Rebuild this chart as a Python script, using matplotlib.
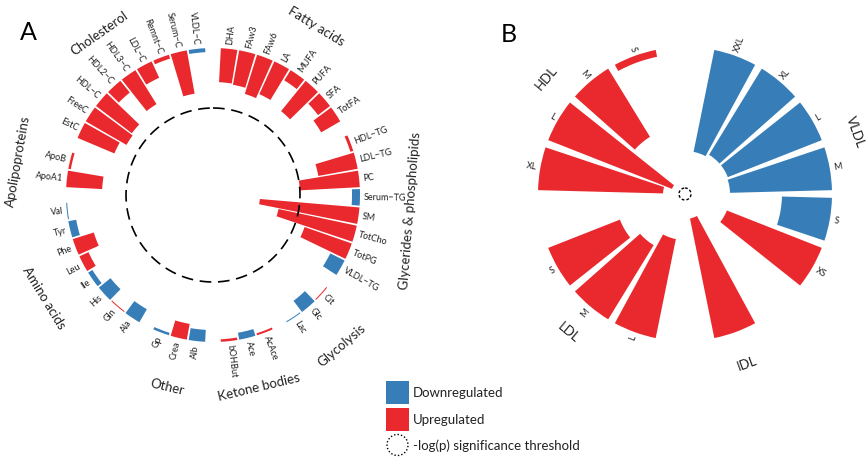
import numpy as np
import matplotlib
matplotlib.use("Agg")
import matplotlib.pyplot as plt
from matplotlib.patches import Rectangle, Circle

plt.rcParams['font.family'] = ['Lato', 'DejaVu Sans']

RED = "#E9292E"
BLUE = "#377EB8"

# ---------------- panel A data ----------------
groups_a = ["Fatty acids", "Glycerides & phospholipids", "Glycolysis", "Ketone bodies",
            "Other", "Amino acids", "Apolipoproteins", "Cholesterol"]
names_a = [
    ["DHA", "FAw3", "FAw6", "LA", "MUFA", "PUFA", "SFA", "TotFA"],
    ["HDL\u2212TG", "LDL\u2212TG", "PC", "Serum\u2212TG", "SM", "TotCho", "TotPG", "VLDL\u2212TG"],
    ["Cit", "Glc", "Lac"],
    ["AcAce", "Ace", "bOHBut"],
    ["Alb", "Crea", "Gp"],
    ["Ala", "Gln", "His", "Ile", "Leu", "Phe", "Tyr", "Val"],
    ["ApoA1", "ApoB"],
    ["EstC", "FreeC", "HDL\u2212C", "HDL2\u2212C", "HDL3\u2212C", "LDL\u2212C", "Remnt\u2212C", "Serum\u2212C", "VLDL\u2212C"],
]
# bar length (score)
values_a = [
    [34, 35, 41, 36, 12, 39, 15, 22],
    [3, 40, 60, 8, 100, 80, 50, 16],
    [1, 14, 1],
    [2, 7, 2.5],
    [12, 16, 2.5],
    [15, 1, 15, 5, 10, 22, 8, 1],
    [36, 2.5],
    [40, 47, 45, 15, 40, 18, 4, 44, 4],
]
# 1 = upregulated, 0 = downregulated
up_a = [
    [1, 1, 1, 1, 1, 1, 1, 1],
    [1, 1, 1, 0, 1, 1, 1, 0],
    [1, 0, 0],
    [1, 0, 1],
    [0, 1, 0],
    [0, 1, 0, 0, 1, 1, 0, 0],
    [1, 1],
    [1, 1, 1, 1, 1, 1, 1, 1, 0],
]
threshold_a = 60

# ---------------- panel B data ----------------
groups_b = ["VLDL", "IDL", "LDL", "HDL"]
names_b = [["XXL", "XL", "L", "M", "S", "XS"], [""], ["L", "M", "S"], ["XL", "L", "M", "S"]]
values_b = [[104, 101, 101, 102, 50, 102], [122], [101, 87, 77], [125, 133, 80, 7]]
up_b = [[0, 0, 0, 0, 0, 1], [1], [1, 1, 1], [1, 1, 1, 1]]
threshold_b = 141

R_OUT = 147
W, H = 867, 457
fig = plt.figure(figsize=(W / 100, H / 100), dpi=100)


def polar_axes(cx, cy, rad=200):
    ax = fig.add_axes([(cx - rad) / W, (H - cy - rad) / H, 2 * rad / W, 2 * rad / H],
                      projection='polar')
    ax.set_theta_zero_location('N')
    ax.set_theta_direction(-1)
    ax.set_ylim(0, rad)
    ax.axis('off')
    return ax


def item_label(ax, deg, r, txt, size):
    if deg % 360 < 180:
        rot, ha = 90 - deg, 'left'
    else:
        rot, ha = 270 - deg, 'right'
    ax.text(np.deg2rad(deg), r, txt, rotation=rot, ha=ha, va='center',
            rotation_mode='anchor', fontsize=size, color='#222222')


def group_label(ax, deg, r, txt, size):
    d = deg % 360
    rot = 180 - d if 90 < d < 270 else -d
    ax.text(np.deg2rad(deg), r, txt, rotation=rot, ha='center', va='center',
            rotation_mode='anchor', fontsize=size, color='#222222')


# ---------------- panel A ----------------
axA = polar_axes(213, 195)
n_items = sum(len(g) for g in names_a)
step = 360.0 / (n_items + 0.75 * len(groups_a))
i = 0
for g, grp in enumerate(groups_a):
    pos = []
    for name, val, up in zip(names_a[g], values_a[g], up_a[g]):
        p = (0.875 + i + 0.75 * g) * step
        pos.append(p)
        axA.bar(np.deg2rad(p), val, width=np.deg2rad(step * 0.9), bottom=R_OUT - val,
                color=RED if up else BLUE, linewidth=0)
        item_label(axA, p, R_OUT + 4, name, 6.5)
        i += 1
    group_label(axA, np.mean(pos), 198, grp, 9.5)

t = np.linspace(0, 2 * np.pi, 500)
axA.plot(t, np.full_like(t, R_OUT - threshold_a), color='black', lw=1.2, ls=(0, (7, 4)))

# ---------------- panel B ----------------
axB = polar_axes(685, 194)
slot = 20
k = 1
for g, grp in enumerate(groups_b):
    pos = []
    for name, val, up in zip(names_b[g], values_b[g], up_b[g]):
        p = k * slot
        pos.append(p)
        axB.bar(np.deg2rad(p), val, width=np.deg2rad(17), bottom=R_OUT - val,
                color=RED if up else BLUE, linewidth=0)
        if name:
            item_label(axB, p, R_OUT + 4, name, 6.5)
        k += 1
    k += 1
    group_label(axB, np.mean(pos), 181, grp, 9.5)
axB.plot(t, np.full_like(t, R_OUT - threshold_b), color='black', lw=1.0, ls=(0, (2, 1.5)))

# ---------------- panel letters ----------------
fig.text(28 / W, 1 - 33 / H, "A", fontsize=18, ha='center', va='center')
fig.text(509 / W, 1 - 34 / H, "B", fontsize=18, ha='center', va='center')

# ---------------- legend ----------------
lg = fig.add_axes([0, 0, 1, 1])
lg.set_xlim(0, W)
lg.set_ylim(H, 0)
lg.axis('off')
lg.add_patch(Rectangle((386, 381), 23, 23, color=BLUE, lw=0))
lg.add_patch(Rectangle((386, 408), 23, 23, color=RED, lw=0))
lg.add_patch(Circle((397.5, 445), 10.5, fill=False, ec='black', lw=1.0, ls=(0, (1, 1.5))))
for y, s in [(393, "Downregulated"), (420, "Upregulated"), (446, "-log(p) significance threshold")]:
    lg.text(413, y, s, fontsize=9.5, va='center', ha='left', color='#222222')

fig.savefig("out.png", dpi=100)
